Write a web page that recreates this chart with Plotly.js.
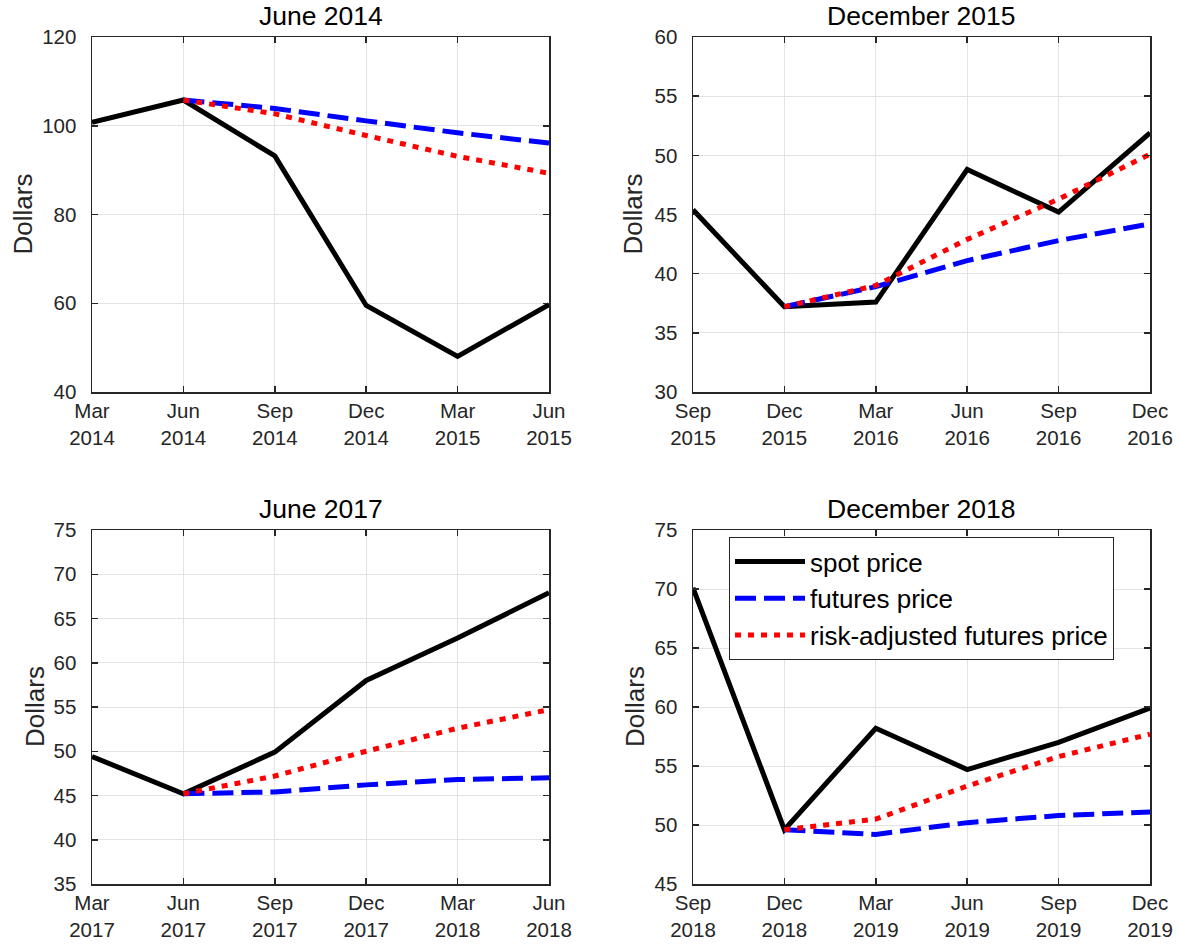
<!DOCTYPE html>
<html>
<head>
<meta charset="utf-8">
<script src="https://cdn.plot.ly/plotly-3.0.1.min.js"></script>
<style>html,body{margin:0;padding:0;background:#fff;}#chart{width:1179px;height:944px;}</style>
</head>
<body>
<div id="chart"></div>
<script>
// ---- data ----
const titles = ['June 2014', 'December 2015', 'June 2017', 'December 2018'];

const quarters1 = ['Mar<br>2014', 'Jun<br>2014', 'Sep<br>2014', 'Dec<br>2014', 'Mar<br>2015', 'Jun<br>2015'];
const spot1     = [100.8, 105.8, 93.2, 59.5, 48.0, 59.7];
const futures1  = [105.8, 103.9, 101.1, 98.4, 96.1];
const riskadj1  = [105.8, 102.7, 97.8, 93.1, 89.3];

const quarters2 = ['Sep<br>2015', 'Dec<br>2015', 'Mar<br>2016', 'Jun<br>2016', 'Sep<br>2016', 'Dec<br>2016'];
const spot2     = [45.4, 37.2, 37.6, 48.8, 45.2, 51.9];
const futures2  = [37.2, 38.9, 41.1, 42.8, 44.2];
const riskadj2  = [37.2, 39.0, 42.9, 46.3, 50.1];

const quarters3 = ['Mar<br>2017', 'Jun<br>2017', 'Sep<br>2017', 'Dec<br>2017', 'Mar<br>2018', 'Jun<br>2018'];
const spot3     = [49.4, 45.2, 49.9, 58.0, 62.8, 67.9];
const futures3  = [45.2, 45.4, 46.2, 46.8, 47.0];
const riskadj3  = [45.2, 47.2, 50.0, 52.6, 54.7];

const quarters4 = ['Sep<br>2018', 'Dec<br>2018', 'Mar<br>2019', 'Jun<br>2019', 'Sep<br>2019', 'Dec<br>2019'];
const spot4     = [70.1, 49.6, 58.2, 54.7, 57.0, 59.9];
const futures4  = [49.6, 49.2, 50.2, 50.8, 51.1];
const riskadj4  = [49.6, 50.5, 53.3, 55.8, 57.7];

const yRanges = [[40, 120], [30, 60], [35, 75], [45, 75]];
const yDtick  = [20, 5, 5, 5];

const seriesNames = ['spot price', 'futures price', 'risk-adjusted futures price'];

// ---- build ----
const W = 1179, H = 944;
const FONT = '"Liberation Sans", Arial, Helvetica, sans-serif';
const INK = '#262626';
const panels = [
  {q: quarters1, s: spot1, f: futures1, r: riskadj1, px: [92, 549],  py: [37, 392],  lab: 23},
  {q: quarters2, s: spot2, f: futures2, r: riskadj2, px: [693, 1150], py: [37, 392], lab: 633},
  {q: quarters3, s: spot3, f: futures3, r: riskadj3, px: [92, 549],  py: [530, 884], lab: 35},
  {q: quarters4, s: spot4, f: futures4, r: riskadj4, px: [693, 1150], py: [530, 884], lab: 635}
];

const traces = [];
const layout = {
  width: W, height: H,
  margin: {l: 0, r: 0, t: 0, b: 0},
  paper_bgcolor: '#fff', plot_bgcolor: '#fff',
  font: {family: FONT, size: 20, color: INK},
  showlegend: true,
  legend: {
    x: 729 / W, y: 1 - 537 / H, xanchor: 'left', yanchor: 'top',
    bgcolor: '#fff', bordercolor: INK, borderwidth: 1,
    font: {family: FONT, size: 26, color: '#000'},
    itemwidth: 70, tracegroupgap: 0
  },
  annotations: [],
  shapes: []
};

panels.forEach((p, i) => {
  const n = i + 1;
  const xa = n === 1 ? 'x' : 'x' + n;
  const ya = n === 1 ? 'y' : 'y' + n;
  traces.push({x: p.q, y: p.s, xaxis: xa, yaxis: ya, type: 'scatter', mode: 'lines',
    name: seriesNames[0], showlegend: n === 4, legendrank: 1,
    line: {color: '#000000', width: 5}});
  traces.push({x: p.q.slice(1), y: p.f, xaxis: xa, yaxis: ya, type: 'scatter', mode: 'lines',
    name: seriesNames[1], showlegend: n === 4, legendrank: 2,
    line: {color: '#0000ff', width: 5, dash: '21px,8px'}});
  traces.push({x: p.q.slice(1), y: p.r, xaxis: xa, yaxis: ya, type: 'scatter', mode: 'lines',
    name: seriesNames[2], showlegend: n === 4, legendrank: 3,
    line: {color: '#ff0000', width: 5, dash: '6px,7px'}});

  const xkey = n === 1 ? 'xaxis' : 'xaxis' + n;
  const ykey = n === 1 ? 'yaxis' : 'yaxis' + n;
  layout[xkey] = {
    domain: [p.px[0] / W, p.px[1] / W],
    anchor: ya, type: 'category', categoryorder: 'array', categoryarray: p.q,
    range: [0, 5], showline: true, linecolor: INK, linewidth: 1.5, mirror: 'ticks',
    ticks: 'inside', ticklen: 6, tickwidth: 1.5, tickcolor: INK,
    showgrid: true, gridcolor: '#e3e3e3', gridwidth: 1, zeroline: false,
    tickfont: {family: FONT, size: 20.5, color: INK}, ticklabelstandoff: 0, fixedrange: true
  };
  layout[ykey] = {
    domain: [1 - p.py[1] / H, 1 - p.py[0] / H],
    anchor: xa, range: yRanges[i], dtick: yDtick[i], tick0: 0,
    showline: true, linecolor: INK, linewidth: 1.5, mirror: 'ticks',
    ticks: 'inside', ticklen: 6, tickwidth: 1.5, tickcolor: INK,
    showgrid: true, gridcolor: '#e3e3e3', gridwidth: 1, zeroline: false,
    tickfont: {family: FONT, size: 20.5, color: INK}, ticklabelstandoff: 10, fixedrange: true
  };
  layout.annotations.push({
    text: titles[i], xref: 'paper', yref: 'paper', showarrow: false,
    x: (p.px[0] + p.px[1]) / 2 / W, y: 1 - (p.py[0] - 21) / H, yanchor: 'middle', xanchor: 'center',
    font: {family: FONT, size: 26.5, color: '#000'}
  });
  layout.annotations.push({
    text: 'Dollars', xref: 'paper', yref: 'paper', showarrow: false, textangle: -90,
    x: p.lab / W, y: 1 - (p.py[0] + p.py[1]) / 2 / H, xanchor: 'center', yanchor: 'middle',
    font: {family: FONT, size: 26, color: INK}
  });
});

Plotly.newPlot('chart', traces, layout, {staticPlot: true, displayModeBar: false});
</script>
</body>
</html>
